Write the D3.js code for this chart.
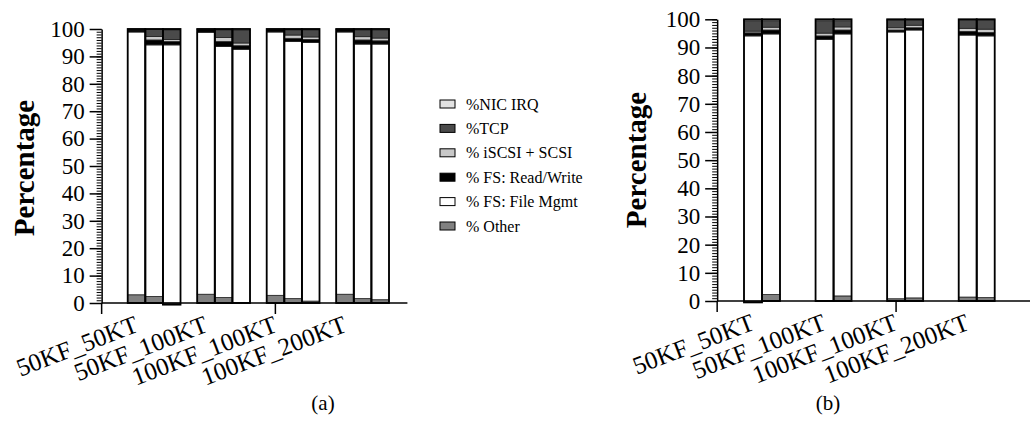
<!DOCTYPE html>
<html>
<head>
<meta charset="utf-8">
<script src="https://cdn.jsdelivr.net/npm/d3@7"></script>
<style>
  body { margin: 0; background: #fff; }
  svg text { font-family: "Times New Roman", "Liberation Serif", serif; fill: #000; }
</style>
</head>
<body>
<svg id="chart" width="1031" height="441"></svg>
<script>
// stack order, bottom to top
var series = ["% Other", "% FS: File Mgmt", "% FS: Read/Write", "% iSCSI + SCSI", "%TCP", "%NIC IRQ"];
var colors = ["#808080", "#ffffff", "#000000", "#c8c8c8", "#4a4a4a", "#e2e2e2"];
var categories = ["50KF_50KT", "50KF_100KT", "100KF_100KT", "100KF_200KT"];
var yTicks = [0, 10, 20, 30, 40, 50, 60, 70, 80, 90, 100];

// panel (a): 3 bars per category
var otherA = [3.0, 2.4, -0.6, 3.2, 2.0, 0.2, 2.8, 1.6, 0.7, 3.2, 1.6, 1.2];
var fileMgmtA = [95.9, 91.8, 94.2, 95.6, 91.6, 92.4, 96.1, 93.8, 94.4, 95.7, 92.9, 93.3];
var readWriteA = [0.8, 1.8, 1.2, 1.0, 1.8, 1.3, 0.9, 1.2, 1.1, 0.9, 1.5, 1.2];
var iscsiA = [0.1, 1.3, 0.8, 0.1, 1.5, 1.0, 0.1, 1.2, 0.9, 0.1, 1.2, 1.0];
var tcpA = [0.1, 2.5, 3.5, 0.1, 2.8, 4.6, 0.1, 1.9, 2.6, 0.1, 2.4, 2.9];
var nicA = [0.1, 0.2, 0.3, 0.0, 0.3, 0.5, 0.0, 0.3, 0.3, 0.0, 0.4, 0.4];

// panel (b): 2 bars per category
var otherB = [-0.5, 2.3, 0.1, 1.8, 0.8, 1.1, 1.4, 1.2];
var fileMgmtB = [94.1, 92.5, 92.8, 93.0, 94.7, 95.1, 93.0, 92.9];
var readWriteB = [1.1, 1.4, 1.2, 1.4, 0.7, 0.8, 1.3, 1.2];
var iscsiB = [0.6, 1.0, 1.0, 1.1, 0.8, 0.9, 1.1, 1.2];
var tcpB = [3.7, 2.3, 4.4, 2.2, 2.6, 1.8, 2.9, 3.2];
var nicB = [0.5, 0.5, 0.5, 0.5, 0.4, 0.3, 0.3, 0.3];

var svg = d3.select("#chart");

function buildRows(perCat, cols) {
  var rows = [];
  categories.forEach(function(c, i) {
    for (var j = 0; j < perCat; j++) {
      var r = { cat: c, bar: j };
      series.forEach(function(s, k) { r[s] = cols[k][i * perCat + j]; });
      rows.push(r);
    }
  });
  return rows;
}

function drawPanel(o) {
  var g = svg.append("g");
  var rows = buildRows(o.perCat, o.cols);

  var y = d3.scaleLinear().domain([0, 100]).range([o.bottom, o.top]);
  var xGroup = d3.scaleBand().domain(categories).range([o.barsFrom, o.barsTo])
    .paddingInner(o.gap).paddingOuter(0);
  var xBar = d3.scaleBand().domain(d3.range(o.perCat)).range([0, xGroup.bandwidth()]);
  var step = xGroup.step();
  var axisX = o.barsFrom - 0.375 * step;

  var stacked = d3.stack().keys(series).offset(d3.stackOffsetDiverging)(rows);

  // bar segments
  stacked.forEach(function(layer, k) {
    g.selectAll(null).data(layer).enter().append("rect")
      .attr("x", function(d) { return xGroup(d.data.cat) + xBar(d.data.bar); })
      .attr("width", xBar.bandwidth())
      .attr("y", function(d) { return y(Math.max(d[0], d[1])); })
      .attr("height", function(d) { return Math.abs(y(d[0]) - y(d[1])); })
      .attr("fill", colors[k])
      .attr("stroke", "#222")
      .attr("stroke-width", 0.8);
  });

  // bar outlines
  g.selectAll(null).data(rows).enter().append("rect")
    .attr("x", function(d) { return xGroup(d.cat) + xBar(d.bar); })
    .attr("width", xBar.bandwidth())
    .attr("y", function(d) { return y(d3.sum(series, function(s) { return Math.max(0, d[s]); })); })
    .attr("height", function(d) {
      var top = d3.sum(series, function(s) { return Math.max(0, d[s]); });
      var low = d3.sum(series, function(s) { return Math.min(0, d[s]); });
      return y(low) - y(top);
    })
    .attr("fill", "none")
    .attr("stroke", "#000")
    .attr("stroke-width", 1.8);

  // y axis, minor then major
  g.append("g").attr("transform", "translate(" + axisX + ",0)")
    .call(d3.axisLeft(y).ticks(100).tickSize(5).tickSizeOuter(0).tickFormat(""))
    .call(function(a) { a.selectAll("line").attr("stroke-width", 1); a.select(".domain").remove(); });
  g.append("g").attr("transform", "translate(" + axisX + ",0)")
    .call(d3.axisLeft(y).tickValues(yTicks).tickSize(12).tickPadding(5).tickSizeOuter(0))
    .call(function(a) {
      a.selectAll("line").attr("stroke-width", 1.5);
      a.select(".domain").attr("stroke-width", 1.5);
      a.selectAll("text").attr("font-size", 23);
    });

  // x axis
  var xEnd = Math.min(axisX + 4.4 * step, 1030);
  g.append("line").attr("x1", axisX).attr("x2", xEnd)
    .attr("y1", y(0)).attr("y2", y(0)).attr("stroke", "#000").attr("stroke-width", 1.5);
  [0, 1].forEach(function(k) {
    var tx = axisX + k * 2.5 * step;
    g.append("line").attr("x1", tx).attr("x2", tx)
      .attr("y1", y(0)).attr("y2", y(0) + 11).attr("stroke", "#000").attr("stroke-width", 1.5);
  });

  g.selectAll(null).data(categories).enter().append("text")
    .attr("transform", function(d) {
      return "translate(" + (xGroup(d) + 12) + "," + (y(0) + 28) + ") rotate(-21)";
    })
    .attr("text-anchor", "end")
    .attr("font-size", 25)
    .text(function(d) { return d; });

  g.append("text")
    .attr("transform", "translate(" + o.labelX + "," + o.labelY + ") rotate(-90)")
    .attr("text-anchor", "middle")
    .attr("font-size", 29)
    .attr("font-weight", "bold")
    .text("Percentage");

  g.append("text").attr("x", o.captionX).attr("y", 410)
    .attr("text-anchor", "middle").attr("font-size", 21).text(o.caption);
}

drawPanel({ perCat: 3, cols: [otherA, fileMgmtA, readWriteA, iscsiA, tcpA, nicA],
  top: 29, bottom: 303, barsFrom: 127.7, barsTo: 389, gap: 0.24,
  labelX: 34, labelY: 168, captionX: 323, caption: "(a)" });
drawPanel({ perCat: 2, cols: [otherB, fileMgmtB, readWriteB, iscsiB, tcpB, nicB],
  top: 19.3, bottom: 301, barsFrom: 744, barsTo: 994.7, gap: 0.497,
  labelX: 646, labelY: 160, captionX: 828, caption: "(b)" });

// legend, top to bottom reversed from stack
var legendItems = series.slice().reverse();
var legendColors = colors.slice().reverse();
var leg = svg.append("g");
legendItems.forEach(function(s, i) {
  var cy = 104 + i * 24.4;
  leg.append("rect").attr("x", 440).attr("y", cy - 4).attr("width", 15).attr("height", 8)
    .attr("fill", legendColors[i]).attr("stroke", "#000").attr("stroke-width", 1);
  leg.append("text").attr("x", 466).attr("y", cy).attr("dy", "0.35em")
    .attr("font-size", 16).text(s);
});
</script>
</body>
</html>
